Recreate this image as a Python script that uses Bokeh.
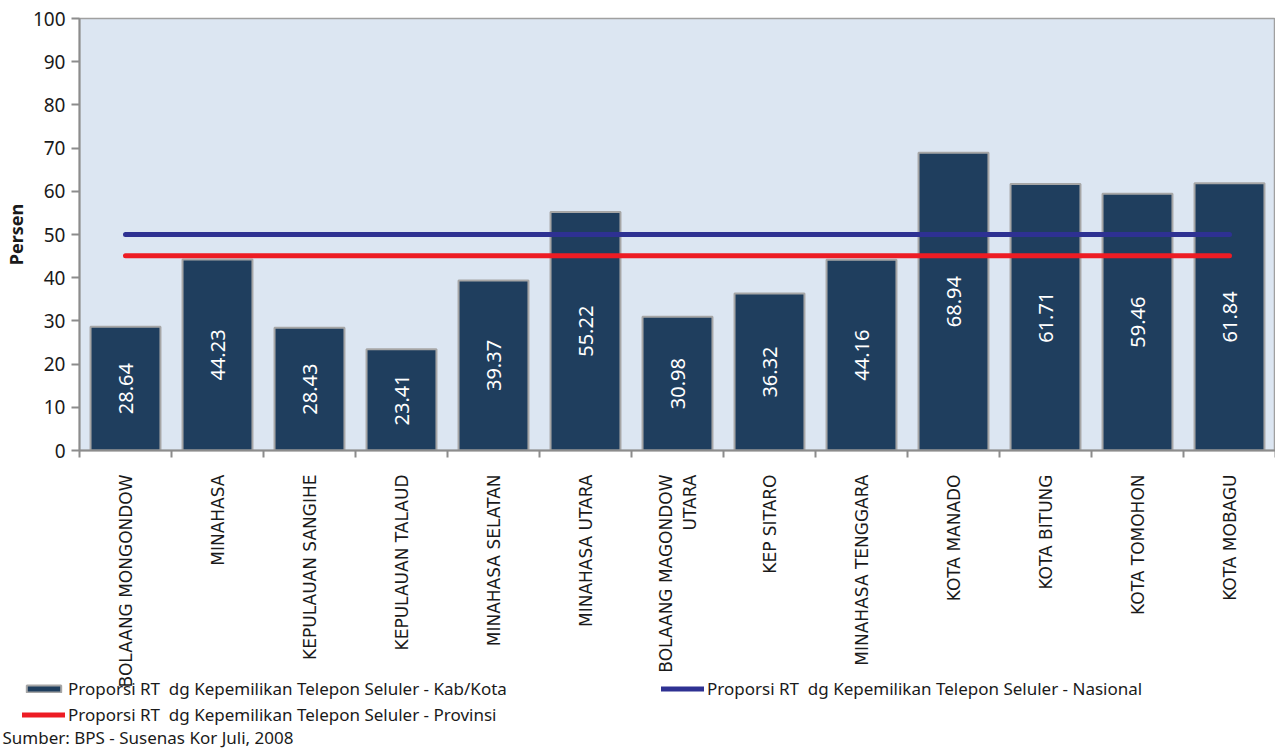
import math
from bokeh.plotting import figure
from bokeh.layouts import column
from bokeh.models import (Range1d, FixedTicker, Legend, LegendItem, Label, ColumnDataSource)
from bokeh.core.properties import value
from bokeh.embed import file_html
from bokeh.resources import INLINE

# ---- data ----
categories = ["BOLAANG MONGONDOW", "MINAHASA", "KEPULAUAN SANGIHE", "KEPULAUAN TALAUD",
              "MINAHASA SELATAN", "MINAHASA UTARA", "BOLAANG MAGONDOW\nUTARA", "KEP SITARO",
              "MINAHASA TENGGARA", "KOTA MANADO", "KOTA BITUNG", "KOTA TOMOHON", "KOTA MOBAGU"]
kab_kota = [28.64, 44.23, 28.43, 23.41, 39.37, 55.22, 30.98, 36.32, 44.16, 68.94, 61.71, 59.46, 61.84]
nasional = [50.0, 50.0, 50.0, 50.0, 50.0, 50.0, 50.0, 50.0, 50.0, 50.0, 50.0, 50.0, 50.0]
provinsi = [45.1, 45.1, 45.1, 45.1, 45.1, 45.1, 45.1, 45.1, 45.1, 45.1, 45.1, 45.1, 45.1]
y_ticks = [0, 10, 20, 30, 40, 50, 60, 70, 80, 90, 100]
lbl_kab = "Proporsi RT  dg Kepemilikan Telepon Seluler - Kab/Kota"
lbl_nas = "Proporsi RT  dg Kepemilikan Telepon Seluler - Nasional"
lbl_prov = "Proporsi RT  dg Kepemilikan Telepon Seluler - Provinsi"
source_note = "Sumber: BPS - Susenas Kor Juli, 2008"

FONT = "Noto Sans"
CAT_FONT = "DejaVu Sans"
BAR_FILL = "#1F3E5E"
BAR_LINE = "#A6A6A6"
NAS_COLOR = "#2E3192"
PROV_COLOR = "#ED1C24"
TXT = "#1a1a1a"

n = len(categories)
idx = list(range(n))

src = ColumnDataSource(dict(
    x=idx, top=kab_kota,
    mid=[v / 2 for v in kab_kota],
    txt=[f"{v:.2f}" for v in kab_kota],
    nas=nasional, prov=provinsi,
))

W = 1275
HA = 690
HB = 74
OVERLAP = 15


def draw_bars(fig):
    return fig.vbar(x="x", top="top", width=0.76, source=src, fill_color=BAR_FILL,
                    line_color=BAR_LINE, line_width=2)


def draw_lines(fig):
    ln = fig.line(x="x", y="nas", source=src, line_color=NAS_COLOR, line_width=5, line_cap="round")
    lp = fig.line(x="x", y="prov", source=src, line_color=PROV_COLOR, line_width=5, line_cap="round")
    return ln, lp


p = figure(width=W, height=HA, output_backend="svg", toolbar_location=None,
           x_range=Range1d(-0.5, n - 0.5), y_range=Range1d(0, 100),
           min_border_left=72, min_border_right=0, min_border_top=18, min_border_bottom=238)
p.frame_align = False
p.background_fill_color = "#DCE6F2"
p.border_fill_color = None
p.outline_line_color = "#A0A0A0"
p.outline_line_width = 1.5
p.xgrid.visible = False
p.ygrid.visible = False

draw_bars(p)
p.text(x="x", y="mid", text="txt", source=src, angle=math.pi / 2,
       text_align="center", text_baseline="middle", text_color="white",
       text_font=value(FONT), text_font_size="20px")
draw_lines(p)

# x axis
xa = p.xaxis[0]
xa.ticker = FixedTicker(ticks=idx, minor_ticks=[i - 0.5 for i in range(n + 1)])
xa.major_label_overrides = {i: c for i, c in enumerate(categories)}
xa.major_label_orientation = math.pi / 2
xa.major_tick_out = 0
xa.major_tick_in = 0
xa.minor_tick_out = 7
xa.minor_tick_in = 0
xa.minor_tick_line_color = "#8C8C8C"
xa.minor_tick_line_width = 2
xa.axis_line_color = "#8C8C8C"
xa.axis_line_width = 2
xa.major_label_standoff = 17
xa.major_label_text_font = CAT_FONT
xa.major_label_text_font_size = "17px"
xa.major_label_text_color = TXT

# y axis
ya = p.yaxis[0]
ya.ticker = FixedTicker(ticks=y_ticks)
ya.minor_tick_line_color = None
ya.major_tick_out = 8
ya.major_tick_in = 0
ya.major_tick_line_color = "#8C8C8C"
ya.major_tick_line_width = 2
ya.axis_line_color = "#8C8C8C"
ya.axis_line_width = 2
ya.major_label_standoff = 6
ya.major_label_text_font = FONT
ya.major_label_text_font_size = "19px"
ya.major_label_text_color = TXT
ya.axis_label = "Persen"
ya.axis_label_text_font = FONT
ya.axis_label_text_font_style = "bold"
ya.axis_label_text_font_size = "18px"
ya.axis_label_text_color = TXT
ya.axis_label_standoff = 2

# ---- legend strip (hidden copies of the series supply the legend swatches) ----
q = figure(width=W, height=HB, output_backend="svg", toolbar_location=None,
           x_range=Range1d(-0.5, n - 0.5), y_range=Range1d(0, 100),
           x_axis_location=None, y_axis_location=None,
           min_border_left=0, min_border_right=0, min_border_top=0, min_border_bottom=0,
           styles={"margin-top": f"-{OVERLAP}px"})
q.frame_align = False
q.grid.visible = False
q.outline_line_color = None
q.background_fill_color = None
q.border_fill_color = None
r_bar = draw_bars(q)
r_nas, r_prov = draw_lines(q)
for r in (r_bar, r_nas, r_prov):
    r.visible = False


def style_legend(lg):
    lg.background_fill_alpha = 0
    lg.border_line_color = None
    lg.inactive_fill_alpha = 0
    lg.padding = 0
    lg.margin = 0
    lg.spacing = 0
    lg.glyph_width = 43
    lg.glyph_height = 9
    lg.label_height = 26
    lg.label_standoff = 3
    lg.label_text_font = FONT
    lg.label_text_font_size = "17px"
    lg.label_text_color = TXT


leg1 = Legend(items=[LegendItem(label=lbl_kab, renderers=[r_bar]),
                     LegendItem(label=lbl_prov, renderers=[r_prov])],
              location=(22, HB - 52), orientation="vertical")
style_legend(leg1)
leg2 = Legend(items=[LegendItem(label=lbl_nas, renderers=[r_nas])],
              location=(661, HB - 26), orientation="vertical")
style_legend(leg2)
q.add_layout(leg1, "center")
q.add_layout(leg2, "center")

note = Label(x=2, y=12, x_units="screen", y_units="screen", text=source_note,
             text_baseline="middle", text_font=FONT, text_font_size="17px",
             text_color=TXT)
q.add_layout(note, "center")

layout = column(p, q, spacing=0)
open("out.html", "w").write(file_html(layout, INLINE))
